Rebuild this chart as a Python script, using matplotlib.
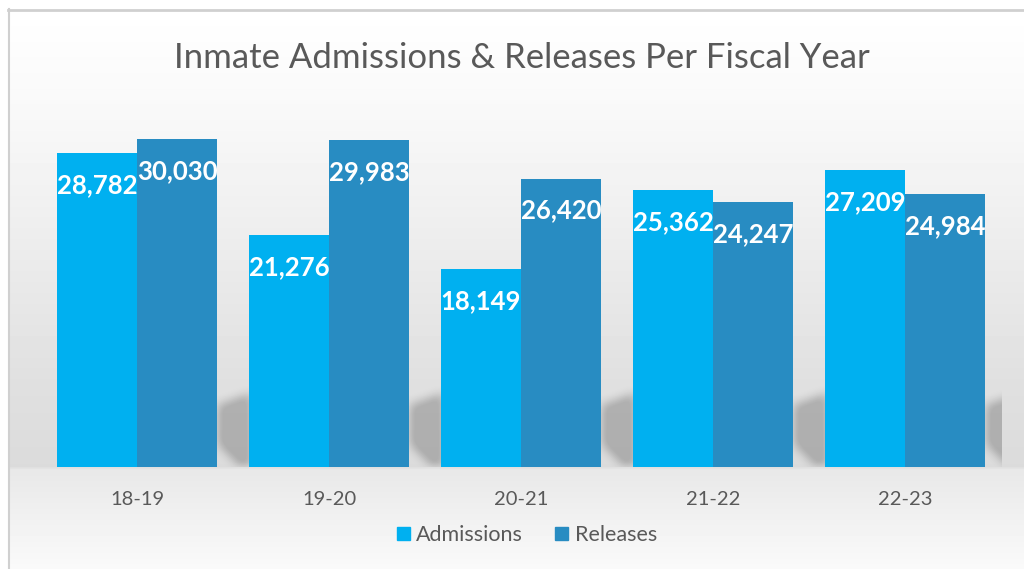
import numpy as np
import matplotlib.pyplot as plt
from matplotlib.patches import Patch
from matplotlib.path import Path

# ==== data ====
years = ["18-19", "19-20", "20-21", "21-22", "22-23"]
admissions = [28782, 21276, 18149, 25362, 27209]
releases = [30030, 29983, 26420, 24247, 24984]

c_adm = "#00B0F0"
c_rel = "#288CC2"
grey_txt = "#595959"

plt.rcParams['font.family'] = ['Lato', 'DejaVu Sans']

W, H = 1024, 569
fig = plt.figure(figsize=(W / 100, H / 100), dpi=100)

# ==== background: vertical grey gradient + frame ====
rows = np.arange(H)
stops_y = [0, 10, 120, 250, 380, 466, 469, 569]
stops_v = [255, 255, 248, 236, 224, 219, 232, 250]
col = np.interp(rows, stops_y, stops_v) / 255
bg_img = np.repeat(col[:, None], W, axis=1)
bg_img[:9, :] = 1
bg_img[:, :8] = 1
bg = fig.add_axes([0, 0, 1, 1])
bg.imshow(bg_img, cmap='gray', vmin=0, vmax=1, aspect='auto',
          extent=[0, W, H, 0], interpolation='bilinear')
bg.plot([8, W], [9.5, 9.5], color='#d0d0d0', lw=2)
bg.plot([8.5, 8.5], [9, H], color='#d0d0d0', lw=1.5)
bg.set_xlim(0, W)
bg.set_ylim(H, 0)
bg.axis('off')

# ==== main axes ====
ax = fig.add_axes([41 / W, 102 / H, 960 / W, 382 / H])
ax.set_facecolor('none')
ax.set_xlim(-0.5, 4.5)
ax.set_ylim(0, 35000)

x = np.arange(len(years))
w = 80 / 192

ax.bar(x - w / 2, admissions, w, color=c_adm, zorder=3)
ax.bar(x + w / 2, releases, w, color=c_rel, zorder=3)

# ==== soft shadow to the right of each group ====
p0 = ax.transData.transform((0, 0))
px_x = ax.transData.transform((1, 0))[0] - p0[0]
px_y = ax.transData.transform((0, 1000))[1] - p0[1]

shape = Path([(0, 22), (0, 62), (34, 74), (34, 0), (22, 0), (0, 22)])
gx = np.arange(-10, 52) + 0.5
gy = np.arange(0, 96) + 0.5
GX, GY = np.meshgrid(gx, gy)
mask = shape.contains_points(np.c_[GX.ravel(), GY.ravel()]).reshape(GX.shape).astype(float)
k = np.ones(9) / 9
for _ in range(3):
    mask = np.apply_along_axis(lambda r: np.convolve(r, k, mode='same'), 1, mask)
    mask = np.apply_along_axis(lambda r: np.convolve(r, k, mode='same'), 0, mask)
shadow = np.zeros(mask.shape + (4,))
shadow[..., 3] = np.clip(mask * 1.15, 0, 1) * 0.21
shadow = shadow[::-1]

for xi in x:
    bx = xi + w
    ax.imshow(shadow, extent=[bx + gx[0] / px_x, bx + gx[-1] / px_x,
                              0, gy[-1] / px_y * 1000],
              aspect='auto', zorder=1, interpolation='bilinear')

# ==== value labels ====
for xi, a, r in zip(x, admissions, releases):
    for xp, v in ((xi - w / 2, a), (xi + w / 2, r)):
        ax.annotate(f"{v:,}", (xp, v), xytext=(0, -23), textcoords='offset points',
                    ha='center', va='center', color='white',
                    fontweight='bold', fontsize=18.5, zorder=4)

ax.set_xticks(x, years)
ax.set_yticks([])
ax.tick_params(axis='x', length=0, pad=17, labelsize=14.5, labelcolor=grey_txt)
for s in ax.spines.values():
    s.set_visible(False)

fig.text(522 / W, 1 - 58 / H, "Inmate Admissions & Releases Per Fiscal Year",
         ha='center', va='center', fontsize=25, color=grey_txt)

fig.legend(handles=[Patch(color=c_adm, label="Admissions"),
                    Patch(color=c_rel, label="Releases")],
           loc='center', bbox_to_anchor=(527 / W, 1 - 535 / H), ncol=2,
           frameon=False, fontsize=15.5, labelcolor=grey_txt,
           handlelength=0.6, handleheight=0.6, handletextpad=0.3,
           columnspacing=1.5)

fig.savefig("out.png", dpi=100)
